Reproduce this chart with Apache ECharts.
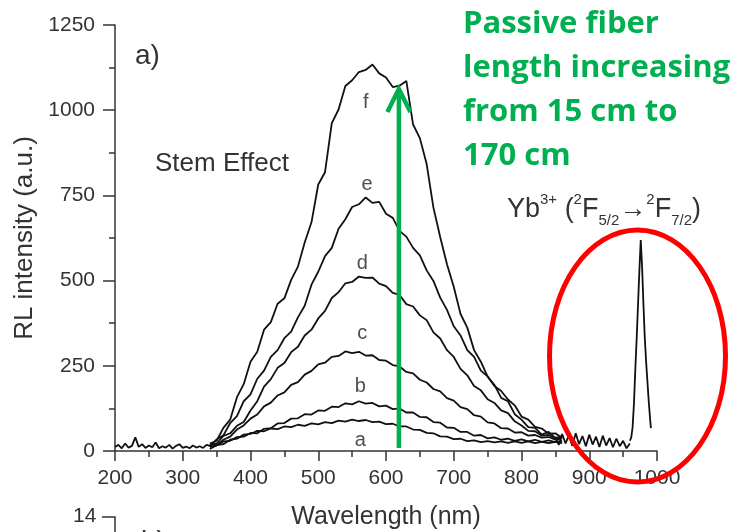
<!DOCTYPE html>
<html><head><meta charset="utf-8">
<script src="https://cdn.jsdelivr.net/npm/echarts@6/dist/echarts.min.js"></script>
<style>html,body{margin:0;padding:0;background:#fff}#c{width:731px;height:532px}</style>
</head><body><div id="c"></div>
<script>
// ---- data ----
const wavelength = [340,350,360,370,380,390,400,410,420,430,440,450,460,470,480,490,500,510,520,530,540,550,560,570,580,590,600,610,620,630,640,650,660,670,680,690,700,710,720,730,740,750,760,770,780,790,800,810,820,830,840,850,860];
const curveA = [6,17,20,33,36,48,50,59,58,66,64,72,70,77,74,81,78,85,82,89,86,92,88,91,85,86,79,80,72,72,63,62,53,52,43,42,35,36,29,31,26,29,25,28,24,28,24,28,23,27,23,27,23];
const curveB = [12,16,28,30,41,42,53,52,65,67,81,82,95,96,108,107,119,118,130,129,140,137,146,139,141,131,133,123,125,113,113,100,99,85,83,69,68,56,56,45,47,37,40,33,36,30,34,28,33,27,31,26,30];
const curveC = [14,18,33,42,63,75,95,107,131,142,163,172,194,202,224,235,254,259,276,279,292,287,291,280,281,267,265,252,248,232,228,209,201,182,175,155,148,129,123,105,101,84,81,67,66,54,55,45,47,39,41,33,37];
const curveD = [18,22,44,52,74,85,119,146,189,211,244,258,290,306,339,356,389,411,449,466,492,496,512,508,509,491,484,464,458,431,424,398,384,348,330,296,276,241,222,191,178,152,141,119,111,87,75,59,58,45,47,37,39];
const curveE = [12,34,46,82,102,146,166,212,236,276,296,331,350,392,426,488,526,572,596,652,680,716,724,744,728,731,696,684,646,629,596,574,530,499,450,414,366,339,296,276,236,219,191,176,151,134,101,92,71,66,51,52,38];
const curveF = [22,30,68,92,158,196,262,291,356,378,432,448,502,541,612,671,782,818,962,1002,1071,1088,1112,1118,1134,1108,1096,1068,1072,1086,958,918,842,714,628,548,482,402,362,296,262,218,194,156,146,108,92,70,68,48,56,38,44];
const curveNames = ['a','b','c','d','e','f'];
const baseWl  = [200,205,210,215,220,225,230,235,240,245,250,255,260,265,270,275,280,285,290,295,300,305,310,315,320,325,330,335,340,345];
const baseVal = [12,18,8,22,10,15,40,12,20,9,16,11,25,8,14,10,18,7,15,20,9,13,8,16,10,14,9,18,15,25];
const tailWl  = [850,855,860,865,870,875,880,885,890,895,900,905,910,915,920,925,930,935,940,945,950,955,960];
const tailVal = [42,18,50,22,46,15,52,20,44,14,48,19,42,12,45,16,38,11,36,14,30,8,22];
const peakWl  = [960,962,964,966,968,970,972,974,976,978,980,982,984,986,988,990,991];
const peakVal = [30,40,70,140,240,330,430,530,619,540,430,330,260,200,140,90,67];
// annotation positions (data units)
const labelWl  = [562,562,565,565,572,570];
const labelVal = [32,188,346,549,783,1024];
const arrowShaftWl = [619,619];
const arrowShaftVal = [9,1058];
const arrowHeadWl = [602,619,636];
const arrowHeadVal = [995,1062,995];
const yTicks = {min:0,max:1250,step:250};
const xTicks = {min:200,max:1000,step:100};

const zip = (xs, ys) => xs.map((x, i) => [x, ys[i]]);
const curves = [curveA, curveB, curveC, curveD, curveE, curveF];
const ink = '#111';
const txt = '#333';
const font = 'Liberation Sans, Arial, sans-serif';

const lineSeries = (name, data) => ({
  name, type:'line', data, symbol:'none', silent:true,
  lineStyle:{color:ink, width:1.8}, z:2
});

const series = [lineSeries('baseline', zip(baseWl, baseVal))];
curves.forEach((c, i) => series.push(lineSeries(curveNames[i], zip(wavelength, c))));
series.push(lineSeries('tail', zip(tailWl, tailVal)));
series.push(lineSeries('Yb peak', zip(peakWl, peakVal)));
series.push({
  type:'scatter', data: zip(labelWl, labelVal), symbolSize:1, itemStyle:{color:'rgba(0,0,0,0)'}, z:5,
  label:{show:true, position:'inside', formatter: p => curveNames[p.dataIndex],
         fontSize:20, color:'#222', fontFamily:font}
});
series.push({type:'line', data: zip(arrowShaftWl, arrowShaftVal), symbol:'none', silent:true,
  lineStyle:{color:'#00b050', width:4.5, cap:'butt'}, z:6});
series.push({type:'line', data: zip(arrowHeadWl, arrowHeadVal), symbol:'none', silent:true,
  lineStyle:{color:'#00b050', width:4.5, join:'miter', cap:'butt'}, z:6});

const chart = echarts.init(document.getElementById('c'), null, {renderer:'canvas'});
chart.setOption({
  backgroundColor:'#fff',
  animation:false,
  grid:{left:115, right:74, top:25, bottom:81, containLabel:false, outerBoundsMode:'none'},
  xAxis:{
    type:'value', min:xTicks.min, max:xTicks.max, interval:xTicks.step,
    name:'Wavelength (nm)', nameLocation:'middle', nameGap:54,
    nameTextStyle:{fontSize:25, color:txt, fontFamily:font},
    axisLine:{lineStyle:{color:'#333', width:1.5}},
    axisTick:{show:true, inside:false, length:10, lineStyle:{color:'#333', width:1.5}},
    minorTick:{show:true, splitNumber:2, length:6, lineStyle:{color:'#333', width:1.5}},
    axisLabel:{fontSize:21, color:txt, fontFamily:font, margin:17, formatter: v => String(v)},
    splitLine:{show:false}
  },
  yAxis:{
    type:'value', min:yTicks.min, max:yTicks.max, interval:yTicks.step,
    name:'RL intensity (a.u.)', nameLocation:'middle', nameGap:62, nameRotate:90,
    nameTextStyle:{fontSize:26, color:txt, fontFamily:font},
    axisLine:{show:true, lineStyle:{color:'#333', width:1.5}},
    axisTick:{show:true, inside:false, length:12, lineStyle:{color:'#333', width:1.5}},
    minorTick:{show:true, splitNumber:2, length:6, lineStyle:{color:'#333', width:1.5}},
    axisLabel:{fontSize:21, color:txt, fontFamily:font, margin:20, formatter: v => String(v)},
    splitLine:{show:false}
  },
  series,
  graphic:[
    {type:'text', left:135, top:42, style:{text:'a)', fontSize:28, fill:txt, fontFamily:font}},
    {type:'text', left:155, top:151, style:{text:'Stem Effect', fontSize:26, fill:txt, fontFamily:font}},
    {type:'text', left:463, top:2, style:{text:'Passive fiber\nlength increasing\nfrom 15 cm to\n170 cm',
      fontSize:31, fontWeight:'bold', lineHeight:44, fill:'#00b050', fontFamily:'Open Sans, sans-serif'}},
    {type:'text', left:507, top:192, style:{
      text:'Yb{sup|3+} ({sup|2}F{sub|5/2}→{sup|2}F{sub|7/2})',
      fontSize:27, lineHeight:36, fill:txt, fontFamily:font,
      rich:{
        sup:{fontSize:15, lineHeight:15, verticalAlign:'top', fill:txt, fontFamily:font},
        sub:{fontSize:15, lineHeight:15, verticalAlign:'bottom', fill:txt, fontFamily:font}
      }}},
    {type:'ellipse', shape:{cx:637.5, cy:356, rx:88, ry:126}, style:{fill:'none', stroke:'#ff0000', lineWidth:5}, z:10},
    {type:'text', left:73, top:506, style:{text:'14', fontSize:21, fill:txt, fontFamily:font}},
    {type:'polyline', shape:{points:[[102,517],[115,517],[115,540]]}, style:{stroke:'#333', lineWidth:1.5, fill:'none'}},
    {type:'text', left:141, top:528, style:{text:'b)', fontSize:28, fill:txt, fontFamily:font}}
  ]
});
</script></body></html>
